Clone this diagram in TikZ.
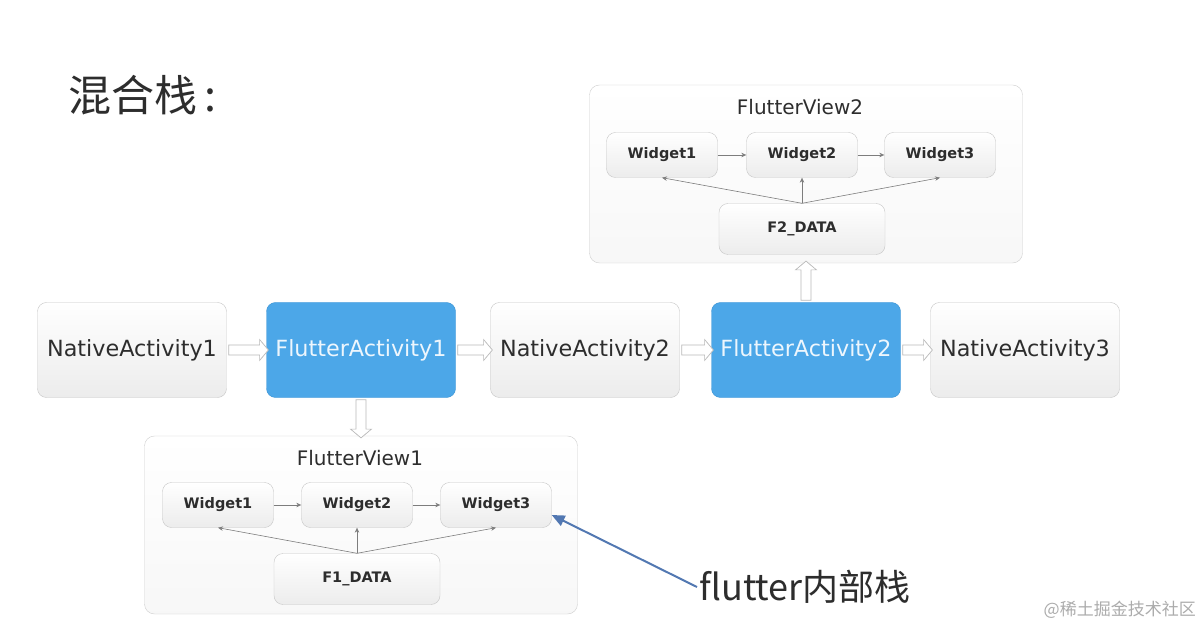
\documentclass[tikz,border=0pt]{standalone}
\usepackage{fontspec}
\setmainfont{DejaVu Sans}
\newfontfamily\cjk{Noto Sans CJK SC}
\usetikzlibrary{shapes.arrows,calc,arrows.meta}

\definecolor{boxline}{RGB}{198,198,198}
\definecolor{boxbot}{RGB}{236,236,236}
\definecolor{flublue}{RGB}{76,167,232}
\definecolor{fluline}{RGB}{60,148,212}
\definecolor{txt}{RGB}{45,45,45}
\definecolor{thin}{RGB}{125,125,125}
\definecolor{callout}{RGB}{82,120,178}

\tikzset{
  actbox/.style={draw, rounded corners=9pt, minimum width=189pt, minimum height=95pt,
    inner sep=0pt, font=\fontsize{22.3}{26}\selectfont},
  native/.style={actbox, draw=boxline, top color=white, bottom color=boxbot, text=txt},
  flutter/.style={actbox, draw=fluline, fill=flublue, text=white!90!flublue},
  view/.style={draw=boxline!85, rounded corners=10pt, top color=white, bottom color=gray!6,
    minimum width=433pt, minimum height=178pt, inner sep=0pt},
  vtitle/.style={font=\fontsize{20}{24}\selectfont, text=txt, inner sep=0pt},
  widget/.style={draw=boxline, rounded corners=9pt, top color=white, bottom color=boxbot,
    minimum width=111pt, minimum height=45pt, inner sep=0pt, text=txt,
    font=\bfseries\fontsize{14.5}{17}\selectfont},
  fdata/.style={widget, minimum width=166pt, minimum height=51pt},
  harrow/.style={single arrow, draw=gray!55, fill=white, line width=0.7pt,
    single arrow head extend=5.5pt, single arrow tip angle=100,
    inner xsep=0pt, inner ysep=4.6pt, outer sep=0pt},
  link/.style={draw=thin, line width=0.6pt, -{Stealth[length=5pt,width=4.5pt]}},
  callarrow/.style={draw=callout, line width=2pt, -{Triangle[length=13pt,width=11pt]}},
}

\newcommand\hollowarrow[2]{%
  \path let \p1=(#1), \p2=(#2), \n1={veclen(\x2-\x1,\y2-\y1)} in
    (\p1) -- (\p2) node[harrow, midway, sloped, allow upside down, minimum height=\n1] {};}

\begin{document}
\begin{tikzpicture}[x=1pt,y=1pt]
\useasboundingbox[fill=white] (0,0) rectangle (1200,-628);

\node[anchor=west, inner sep=0pt, font=\cjk\fontsize{43}{48}\selectfont, text=txt] (title) at (68,-95) {混合栈\,:};

% activity row
\node[native] (na1) at (132,-350) {NativeActivity1};
\node[flutter] (fa1) at (361,-350) {FlutterActivity1};
\node[native] (na2) at (585,-350) {NativeActivity2};
\node[flutter] (fa2) at (806,-350) {FlutterActivity2};
\node[native] (na3) at (1025,-350) {NativeActivity3};

% flutter views
\node[view] (fv2) at (806,-174) {};
\node[vtitle] (vt2) at (800,-107) {FlutterView2};
\node[widget] (w21) at (662,-155) {Widget1};
\node[widget] (w22) at (802,-155) {Widget2};
\node[widget] (w23) at (940,-155) {Widget3};
\node[fdata] (fd2) at (802,-229) {F2\_DATA};

\node[view] (fv1) at (361,-525) {};
\node[vtitle] (vt1) at (360,-458) {FlutterView1};
\node[widget] (w11) at (218,-505) {Widget1};
\node[widget] (w12) at (357,-505) {Widget2};
\node[widget] (w13) at (496,-505) {Widget3};
\node[fdata] (fd1) at (357,-579) {F1\_DATA};

\hollowarrow{na1.east}{fa1.west}
\hollowarrow{fa1.east}{na2.west}
\hollowarrow{na2.east}{fa2.west}
\hollowarrow{fa2.east}{na3.west}
\hollowarrow{fa2.north}{fv2.south}
\hollowarrow{fa1.south}{fv1.north}

\draw[link] (w21) -- (w22);
\draw[link] (w22) -- (w23);
\draw[link] (fd2.north) -- (w21.south);
\draw[link] (fd2.north) -- (w22.south);
\draw[link] (fd2.north) -- (w23.south);

\draw[link] (w11) -- (w12);
\draw[link] (w12) -- (w13);
\draw[link] (fd1.north) -- (w11.south);
\draw[link] (fd1.north) -- (w12.south);
\draw[link] (fd1.north) -- (w13.south);

\node[anchor=west, inner sep=2pt, font=\cjk\fontsize{36}{40}\selectfont, text=txt] (note) at (697,-587) {flutter内部栈};
\draw[callarrow] (note.west) -- ([yshift=-10pt]w13.east);

\node[anchor=east, inner sep=0pt, font=\cjk\fontsize{17}{20}\selectfont, text=gray!65] (mark) at (1196,-610) {@稀土掘金技术社区};
\end{tikzpicture}
\end{document}
